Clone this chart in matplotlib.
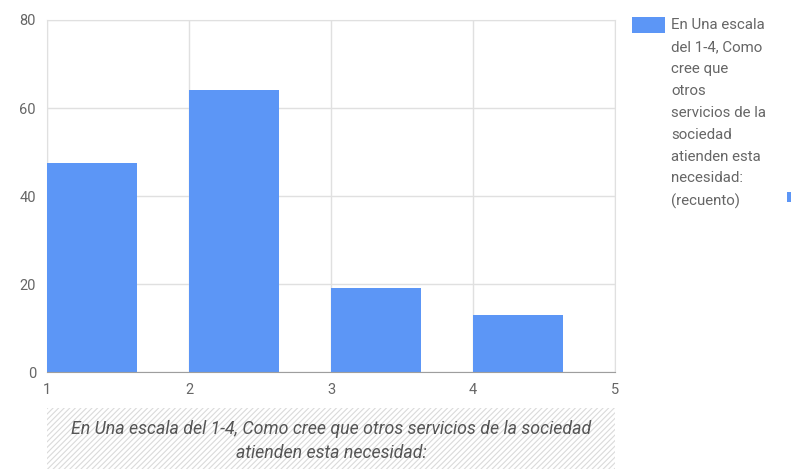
import matplotlib.pyplot as plt
from matplotlib.patches import Rectangle

# Data
categories = [1, 2, 3, 4]
counts = [47.5, 64, 19, 13]
y_ticks = [0, 20, 40, 60, 80]
x_ticks = [1, 2, 3, 4, 5]
legend_text = ("En Una escala\ndel 1-4, Como\ncree que\notros\nservicios de la\n"
               "sociedad\natienden esta\nnecesidad:\n(recuento)")
x_title = ("En Una escala del 1-4, Como cree que otros servicios de la sociedad\n"
           "atienden esta necesidad:")

BLUE = '#5c96f6'
TEXT = '#666666'
GRID = '#e0e0e0'

plt.rcParams['font.family'] = ['Roboto', 'DejaVu Sans']
plt.rcParams['hatch.linewidth'] = 0.8

W, H = 792, 469
fig = plt.figure(figsize=(W / 100, H / 100), dpi=100)
ax = fig.add_axes([47 / W, (H - 372) / H, (615 - 47) / W, (372 - 20) / H])

ax.bar(categories, counts, width=0.634, align='edge', color=BLUE, zorder=3)

ax.set_xlim(1, 5)
ax.set_ylim(0, 80)
ax.set_xticks(x_ticks)
ax.set_yticks(y_ticks)
ax.tick_params(length=0, labelsize=10.5, labelcolor=TEXT)
ax.tick_params(axis='x', pad=8)
ax.tick_params(axis='y', pad=8)
ax.grid(True, color=GRID, linewidth=1, zorder=0)
for side in ['top', 'right', 'left']:
    ax.spines[side].set_color(GRID)
ax.spines['bottom'].set_color('#9e9e9e')
ax.spines['bottom'].set_zorder(4)

# Hatched axis title band
band = Rectangle((47 / W, 0), (615 - 47) / W, (469 - 408) / H,
                 transform=fig.transFigure, facecolor='white',
                 hatch='//////', edgecolor='#dadada', linewidth=0)
fig.patches.append(band)
fig.text(331 / W, (H - 441) / H, x_title, ha='center', va='center',
         fontsize=12.8, style='italic', color='#555555', linespacing=1.48)

# Legend
fig.patches.append(Rectangle((632 / W, (H - 33) / H), 33 / W, 16 / H,
                             transform=fig.transFigure, facecolor=BLUE,
                             edgecolor='none'))
fig.text(671 / W, (H - 18) / H, legend_text, ha='left', va='top',
         fontsize=10.8, color=TEXT, linespacing=1.72)
fig.patches.append(Rectangle((787 / W, (H - 202) / H), 4 / W, 10 / H,
                             transform=fig.transFigure, facecolor=BLUE,
                             edgecolor='none'))

fig.savefig('out.png', dpi=100)
